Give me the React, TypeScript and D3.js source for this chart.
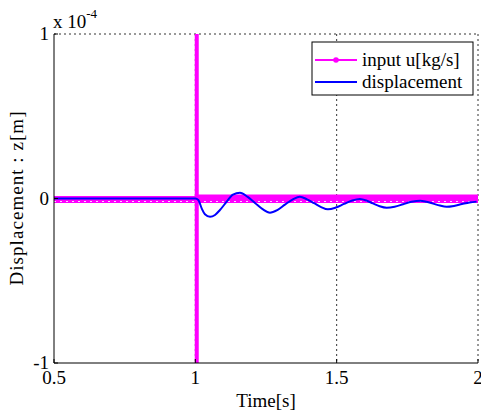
import React from "react";
import * as d3 from "d3";

const xTicks = [0.5, 1, 1.5, 2];
const yTicks = [-1, 0, 1];
const xTickLabels = ["0.5", "1", "1.5", "2"];
const yTickLabels = ["-1", "0", "1"];

// input u: zero everywhere except impulse at t≈1
const inputTime = [0.5, 1.0, 1.005, 1.01, 2.0];
const inputValue = [0, 0, 0, 0, 0];
const impulseTime = 1.005;
const impulseRange = [-1.2, 1.2];

// displacement (x 1e-4)
const dispTime = [0.5, 1.0, 1.0105, 1.0225, 1.034, 1.052, 1.0696, 1.087, 1.111, 1.133, 1.158, 1.185, 1.211, 1.238, 1.264, 1.29, 1.317, 1.345, 1.37, 1.395, 1.42, 1.445, 1.469, 1.497, 1.526, 1.555, 1.582, 1.605, 1.628, 1.652, 1.677, 1.705, 1.735, 1.765, 1.795, 1.818, 1.841, 1.865, 1.889, 1.915, 1.943, 1.97, 1.995];
const dispValue = [0, 0, -0.009, -0.06, -0.096, -0.111, -0.1, -0.07, -0.019, 0.024, 0.035, 0.01, -0.027, -0.065, -0.086, -0.07, -0.037, -0.005, 0.011, -0.005, -0.028, -0.052, -0.066, -0.055, -0.033, -0.012, -0.003, -0.012, -0.03, -0.047, -0.056, -0.05, -0.035, -0.02, -0.013, -0.02, -0.031, -0.043, -0.05, -0.045, -0.034, -0.024, -0.019];

const W = 481;
const H = 416;
const L = 54, R = 478, T = 34, B = 363;
const FONT = "'Liberation Serif', 'Times New Roman', serif";

export default function App() {
  const x = d3.scaleLinear().domain([0.5, 2]).range([L, R]);
  const y = d3.scaleLinear().domain([-1, 1]).range([B, T]);

  const inputLine = d3.line<number>().x((_, i) => x(inputTime[i])).y((_, i) => y(inputValue[i]));
  const dispLine = d3
    .line<number>()
    .x((_, i) => x(dispTime[i]))
    .y((_, i) => y(dispValue[i]))
    .curve(d3.curveMonotoneX);

  return (
    <svg width={W} height={H} style={{ position: "absolute", left: 0, top: 0, background: "#fff" }}>
      <defs>
        <clipPath id="plot">
          <rect x={L} y={T} width={R - L} height={B - T} />
        </clipPath>
      </defs>
      {/* grid */}
      {xTicks.slice(1).map((t) => (
        <line key={"gx" + t} x1={x(t)} x2={x(t)} y1={T} y2={B} stroke="#333" strokeWidth={1} strokeDasharray="2,3" />
      ))}
      {yTicks.slice(1).map((t) => (
        <line key={"gy" + t} x1={L} x2={R} y1={y(t)} y2={y(t)} stroke="#333" strokeWidth={1} strokeDasharray="2,3" />
      ))}
      <g clipPath="url(#plot)">
        {/* input band */}
        <path d={inputLine(inputValue) || ""} fill="none" stroke="#ff00ff" strokeWidth={7} transform="translate(0,1)" />
        <path
          d={inputLine(inputValue) || ""}
          fill="none"
          stroke="#ff00ff"
          strokeWidth={4}
          transform="translate(0,-2)"
          strokeDasharray={`0,${x(1.0) - L} ${R - x(1.0)}`}
        />
        <line x1={L} x2={R} y1={y(0) + 3} y2={y(0) + 3} stroke="#fff" strokeWidth={1} strokeDasharray="2,4" opacity={0.85} />
        <line
          x1={x(impulseTime)}
          x2={x(impulseTime)}
          y1={y(impulseRange[0])}
          y2={y(impulseRange[1])}
          stroke="#ff00ff"
          strokeWidth={4}
        />
        <path d={dispLine(dispValue) || ""} fill="none" stroke="#0000ff" strokeWidth={2} />
      </g>
      {/* axes */}
      <line x1={L} x2={L} y1={T} y2={B} stroke="#000" strokeWidth={1} />
      <line x1={L} x2={R} y1={B} y2={B} stroke="#000" strokeWidth={1} />
      {xTicks.map((t) => (
        <line key={"tx" + t} x1={x(t)} x2={x(t)} y1={B} y2={B - 4} stroke="#000" />
      ))}
      {yTicks.map((t) => (
        <line key={"ty" + t} x1={L} x2={L + 4} y1={y(t)} y2={y(t)} stroke="#000" />
      ))}
      {xTicks.map((t, i) => (
        <text key={"lx" + t} x={x(t)} y={384} textAnchor="middle" fontFamily={FONT} fontSize={19} fill="#000">
          {xTickLabels[i]}
        </text>
      ))}
      {yTicks.map((t, i) => (
        <text key={"ly" + t} x={49} y={y(t) + 6} textAnchor="end" fontFamily={FONT} fontSize={19} fill="#000">
          {yTickLabels[i]}
        </text>
      ))}
      <text x={53} y={28} fontFamily={FONT} fontSize={19} fill="#000">
        x 10
        <tspan fontSize={13} dy={-10}>-4</tspan>
      </text>
      <text x={(L + R) / 2} y={407} textAnchor="middle" fontFamily={FONT} fontSize={19} fill="#000">
        Time[s]
      </text>
      <text
        transform={`translate(23,${(T + B) / 2}) rotate(-90)`}
        textAnchor="middle"
        fontFamily={FONT}
        fontSize={19}
        fill="#000"
        textLength={174}
        lengthAdjust="spacing"
      >
        Displacement : z[m]
      </text>
      {/* legend */}
      <rect x={312} y={42} width={161} height={53} fill="#fff" stroke="#000" strokeWidth={1} />
      <line x1={315} x2={357} y1={60} y2={60} stroke="#ff00ff" strokeWidth={2} />
      <circle cx={336} cy={60} r={2.8} fill="#ff00ff" />
      <text x={362} y={66} fontFamily={FONT} fontSize={19} fill="#000">input u[kg/s]</text>
      <line x1={315} x2={357} y1={82} y2={82} stroke="#0000ff" strokeWidth={2} />
      <text x={362} y={88} fontFamily={FONT} fontSize={19} fill="#000">displacement</text>
    </svg>
  );
}
